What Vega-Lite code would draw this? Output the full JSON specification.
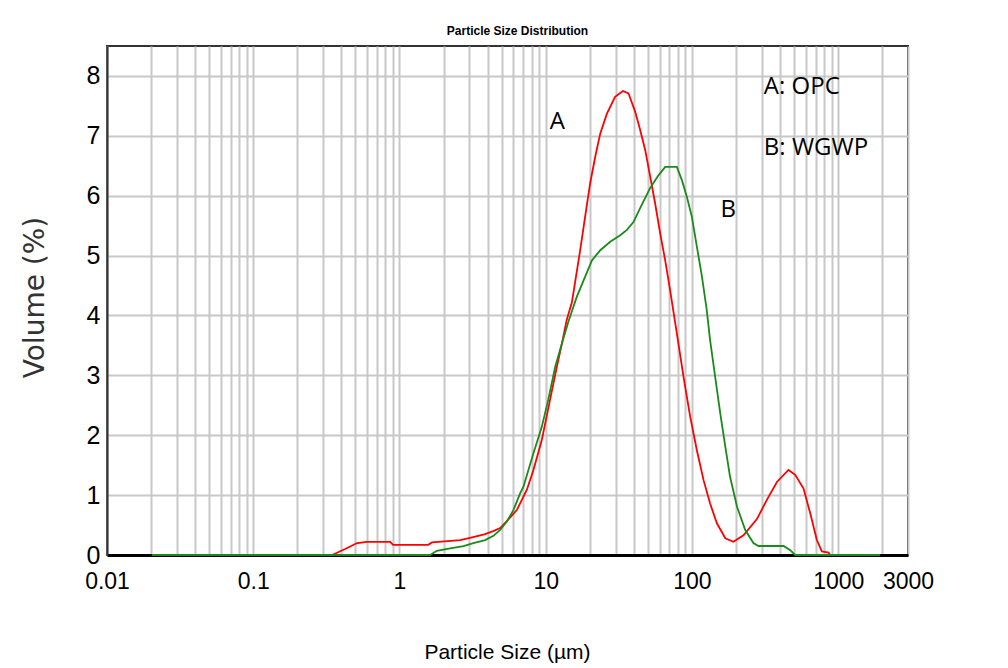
{
  "$schema": "https://vega.github.io/schema/vega-lite/v6.json",
  "autosize": {"type": "none"},
  "padding": {"left": 107, "top": 46, "right": 100, "bottom": 113},
  "width": 801,
  "height": 509,
  "background": "white",
  "config": {
    "view": {"stroke": "#333333", "strokeWidth": 2},
    "title": {"font": "Liberation Sans", "fontSize": 12, "fontWeight": "bold", "color": "#000000", "anchor": "middle", "offset": 8, "dx": 10}
  },
  "title": "Particle Size Distribution",
  "datasets": {
    "curves": [
      {"series": "A", "size": 0.346, "volume": 0},
      {"series": "A", "size": 0.425, "volume": 0.1},
      {"series": "A", "size": 0.513, "volume": 0.2},
      {"series": "A", "size": 0.6, "volume": 0.22},
      {"series": "A", "size": 0.863, "volume": 0.22},
      {"series": "A", "size": 0.904, "volume": 0.17},
      {"series": "A", "size": 1.57, "volume": 0.17},
      {"series": "A", "size": 1.67, "volume": 0.21},
      {"series": "A", "size": 2.6, "volume": 0.25},
      {"series": "A", "size": 3.19, "volume": 0.3},
      {"series": "A", "size": 3.85, "volume": 0.35},
      {"series": "A", "size": 4.37, "volume": 0.4},
      {"series": "A", "size": 4.88, "volume": 0.45},
      {"series": "A", "size": 5.44, "volume": 0.57},
      {"series": "A", "size": 6.34, "volume": 0.75},
      {"series": "A", "size": 7.43, "volume": 1.09},
      {"series": "A", "size": 8.24, "volume": 1.42},
      {"series": "A", "size": 9.4, "volume": 1.92},
      {"series": "A", "size": 10.7, "volume": 2.59},
      {"series": "A", "size": 11.9, "volume": 3.14},
      {"series": "A", "size": 12.9, "volume": 3.53},
      {"series": "A", "size": 13.9, "volume": 3.92},
      {"series": "A", "size": 15.1, "volume": 4.22},
      {"series": "A", "size": 16.1, "volume": 4.65},
      {"series": "A", "size": 17.2, "volume": 5.09},
      {"series": "A", "size": 18.6, "volume": 5.65},
      {"series": "A", "size": 20.1, "volume": 6.2},
      {"series": "A", "size": 21.8, "volume": 6.65},
      {"series": "A", "size": 23.6, "volume": 7.04},
      {"series": "A", "size": 26.2, "volume": 7.37},
      {"series": "A", "size": 29.8, "volume": 7.65},
      {"series": "A", "size": 33.7, "volume": 7.75},
      {"series": "A", "size": 36.8, "volume": 7.71},
      {"series": "A", "size": 40.9, "volume": 7.4},
      {"series": "A", "size": 44.2, "volume": 7.1},
      {"series": "A", "size": 47.9, "volume": 6.76},
      {"series": "A", "size": 51.8, "volume": 6.32},
      {"series": "A", "size": 56.0, "volume": 5.87},
      {"series": "A", "size": 60.6, "volume": 5.37},
      {"series": "A", "size": 65.6, "volume": 4.92},
      {"series": "A", "size": 70.9, "volume": 4.42},
      {"series": "A", "size": 78.8, "volume": 3.7},
      {"series": "A", "size": 87.5, "volume": 2.98},
      {"series": "A", "size": 97.2, "volume": 2.31},
      {"series": "A", "size": 108, "volume": 1.75},
      {"series": "A", "size": 120, "volume": 1.25},
      {"series": "A", "size": 133, "volume": 0.86},
      {"series": "A", "size": 148, "volume": 0.53},
      {"series": "A", "size": 169, "volume": 0.28},
      {"series": "A", "size": 192, "volume": 0.22},
      {"series": "A", "size": 225, "volume": 0.33},
      {"series": "A", "size": 278, "volume": 0.6},
      {"series": "A", "size": 325, "volume": 0.92},
      {"series": "A", "size": 381, "volume": 1.22},
      {"series": "A", "size": 457, "volume": 1.42},
      {"series": "A", "size": 508, "volume": 1.34},
      {"series": "A", "size": 579, "volume": 1.11},
      {"series": "A", "size": 643, "volume": 0.7},
      {"series": "A", "size": 714, "volume": 0.25},
      {"series": "A", "size": 773, "volume": 0.06},
      {"series": "A", "size": 859, "volume": 0.04},
      {"series": "A", "size": 881, "volume": 0},
      {"series": "B", "size": 0.0203, "volume": 0},
      {"series": "B", "size": 1.62, "volume": 0},
      {"series": "B", "size": 1.8, "volume": 0.07},
      {"series": "B", "size": 2.22, "volume": 0.11},
      {"series": "B", "size": 2.74, "volume": 0.15},
      {"series": "B", "size": 3.2, "volume": 0.2},
      {"series": "B", "size": 3.85, "volume": 0.25},
      {"series": "B", "size": 4.39, "volume": 0.32},
      {"series": "B", "size": 4.88, "volume": 0.42},
      {"series": "B", "size": 5.42, "volume": 0.56},
      {"series": "B", "size": 6.01, "volume": 0.75},
      {"series": "B", "size": 6.68, "volume": 1.03},
      {"series": "B", "size": 7.04, "volume": 1.14},
      {"series": "B", "size": 8.24, "volume": 1.7},
      {"series": "B", "size": 9.4, "volume": 2.14},
      {"series": "B", "size": 10.4, "volume": 2.59},
      {"series": "B", "size": 11.6, "volume": 3.14},
      {"series": "B", "size": 12.9, "volume": 3.53},
      {"series": "B", "size": 14.3, "volume": 3.9},
      {"series": "B", "size": 16.3, "volume": 4.31},
      {"series": "B", "size": 18.6, "volume": 4.65},
      {"series": "B", "size": 20.7, "volume": 4.92},
      {"series": "B", "size": 23.6, "volume": 5.09},
      {"series": "B", "size": 27.6, "volume": 5.23},
      {"series": "B", "size": 32.3, "volume": 5.34},
      {"series": "B", "size": 35.9, "volume": 5.43},
      {"series": "B", "size": 39.8, "volume": 5.56},
      {"series": "B", "size": 45.4, "volume": 5.85},
      {"series": "B", "size": 51.8, "volume": 6.13},
      {"series": "B", "size": 59.0, "volume": 6.34},
      {"series": "B", "size": 65.6, "volume": 6.48},
      {"series": "B", "size": 78.8, "volume": 6.48},
      {"series": "B", "size": 85.3, "volume": 6.26},
      {"series": "B", "size": 92.3, "volume": 5.98},
      {"series": "B", "size": 99.8, "volume": 5.65},
      {"series": "B", "size": 108, "volume": 5.15},
      {"series": "B", "size": 117, "volume": 4.65},
      {"series": "B", "size": 126, "volume": 4.1},
      {"series": "B", "size": 133, "volume": 3.59},
      {"series": "B", "size": 144, "volume": 2.98},
      {"series": "B", "size": 156, "volume": 2.37},
      {"series": "B", "size": 169, "volume": 1.81},
      {"series": "B", "size": 182, "volume": 1.31},
      {"series": "B", "size": 203, "volume": 0.81},
      {"series": "B", "size": 231, "volume": 0.42},
      {"series": "B", "size": 263, "volume": 0.2},
      {"series": "B", "size": 285, "volume": 0.15},
      {"series": "B", "size": 423, "volume": 0.15},
      {"series": "B", "size": 470, "volume": 0.08},
      {"series": "B", "size": 508, "volume": 0},
      {"series": "B", "size": 1936, "volume": 0}
    ],
    "legendNotes": [
      {"text": "A: OPC", "size": 310, "volume": 7.7},
      {"text": "B: WGWP", "size": 310, "volume": 6.68}
    ],
    "curveNotes": [
      {"text": "A", "size": 12.0, "volume": 7.11},
      {"text": "B", "size": 177, "volume": 5.64}
    ]
  },
  "layer": [
    {
      "data": {"name": "curves"},
      "mark": {"type": "line", "strokeWidth": 1.8, "interpolate": "linear"},
      "encoding": {
        "x": {
          "field": "size", "type": "quantitative",
          "scale": {"type": "log", "domain": [0.01, 3000], "nice": false},
          "axis": {
            "values": [0.01, 0.02, 0.03, 0.04, 0.05, 0.06, 0.07, 0.08, 0.09, 0.1, 0.2, 0.3, 0.4, 0.5, 0.6, 0.7, 0.8, 0.9, 1, 2, 3, 4, 5, 6, 7, 8, 9, 10, 20, 30, 40, 50, 60, 70, 80, 90, 100, 200, 300, 400, 500, 600, 700, 800, 900, 1000, 2000, 3000],
            "format": "~g",
            "labelExpr": "indexof([0.01, 0.1, 1, 10, 100, 1000, 3000], datum.value) >= 0 ? datum.label : ''",
            "labelOverlap": false,
            "labelFlush": false,
            "labelBound": false,
            "grid": true, "gridColor": "#c8c8c8", "gridWidth": 2,
            "ticks": false, "tickSize": 0,
            "domain": true, "domainColor": "#000000", "domainWidth": 3,
            "labelFont": "Liberation Sans",
            "labelFontSize": 23, "labelColor": "#000000", "labelPadding": 15,
            "title": "Particle Size (µm)",
            "titleFont": "Liberation Sans",
            "titleFontSize": 21, "titleFontWeight": "normal", "titleColor": "#000000",
            "titleX": 400, "titleY": 103, "titleAlign": "center", "titleBaseline": "alphabetic"
          }
        },
        "y": {
          "field": "volume", "type": "quantitative",
          "scale": {"domain": [0, 8.5], "nice": false},
          "axis": {
            "values": [0, 1, 2, 3, 4, 5, 6, 7, 8],
            "format": "d",
            "grid": true, "gridColor": "#c8c8c8", "gridWidth": 2,
            "ticks": false, "tickSize": 0,
            "domain": true, "domainColor": "#333333", "domainWidth": 2,
            "labelFont": "Liberation Sans",
            "labelFontSize": 25, "labelColor": "#000000", "labelPadding": 7,
            "title": "Volume (%)",
            "titleFont": "DejaVu Sans", "titleFontSize": 28, "titleFontWeight": "normal", "titleColor": "#333333",
            "titleAngle": -90, "titleX": -72, "titleY": 251, "titleAlign": "center", "titleBaseline": "middle"
          }
        },
        "color": {
          "field": "series", "type": "nominal",
          "scale": {"domain": ["A", "B"], "range": ["#ff0000", "#1a8a1a"]},
          "legend": null
        }
      }
    },
    {
      "data": {"name": "legendNotes"},
      "mark": {"type": "text", "align": "left", "baseline": "alphabetic", "font": "Open Sans", "fontSize": 24, "color": "#000000"},
      "encoding": {
        "x": {"field": "size", "type": "quantitative"},
        "y": {"field": "volume", "type": "quantitative"},
        "text": {"field": "text"}
      }
    },
    {
      "data": {"name": "curveNotes"},
      "mark": {"type": "text", "align": "center", "baseline": "alphabetic", "font": "Open Sans", "fontSize": 24, "color": "#000000"},
      "encoding": {
        "x": {"field": "size", "type": "quantitative"},
        "y": {"field": "volume", "type": "quantitative"},
        "text": {"field": "text"}
      }
    }
  ]
}
